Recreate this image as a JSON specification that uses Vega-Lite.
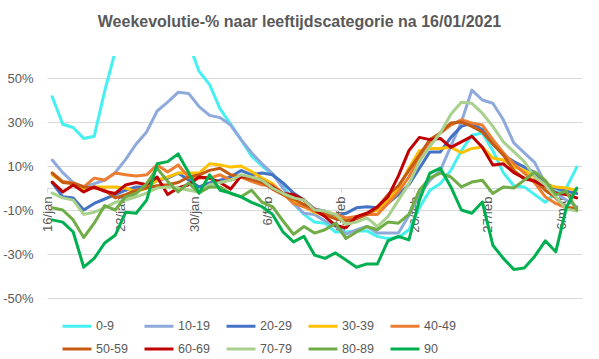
{
"$schema": "https://vega.github.io/schema/vega-lite/v6.json",
"autosize": "none",
"width": 535,
"height": 242,
"padding": {"left": 47, "top": 56, "right": 17, "bottom": 61},
"background": "white",
"title": {"text": "Weekevolutie-% naar leeftijdscategorie  na 16/01/2021", "font": "Liberation Sans", "fontSize": 16, "fontWeight": "bold", "color": "#595959", "anchor": "middle", "dx": -15, "offset": 26},
"data": {"values": [
{"d":"2021-01-16","0-9":41.5,"10-19":12.7,"20-29":2.5,"30-39":6,"40-49":6.8,"50-59":6.8,"60-69":2.7,"70-79":-2.3,"80-89":-9,"90":-14.5},
{"d":"2021-01-17","0-9":29,"10-19":7,"20-29":-4,"30-39":2.7,"40-49":3,"50-59":2.5,"60-69":-1.8,"70-79":-4.5,"80-89":-10,"90":-15.5},
{"d":"2021-01-18","0-9":27.5,"10-19":2.5,"20-29":-4.5,"30-39":2,"40-49":2.3,"50-59":2,"60-69":1.4,"70-79":-5.5,"80-89":-14.5,"90":-20},
{"d":"2021-01-19","0-9":22.5,"10-19":0.5,"20-29":-10,"30-39":-1,"40-49":0.5,"50-59":0.5,"60-69":-1.8,"70-79":-12,"80-89":-22.5,"90":-36},
{"d":"2021-01-20","0-9":23.5,"10-19":2,"20-29":-7,"30-39":0.5,"40-49":4.5,"50-59":0,"60-69":0.5,"70-79":-11,"80-89":-16,"90":-32},
{"d":"2021-01-21","0-9":44,"10-19":3.5,"20-29":-5,"30-39":0.5,"40-49":3.6,"50-59":-1,"60-69":-1.5,"70-79":-9,"80-89":-8,"90":-25},
{"d":"2021-01-22","0-9":62,"10-19":7,"20-29":-3,"30-39":0.5,"40-49":6.8,"50-59":-4.5,"60-69":-2.5,"70-79":-6.5,"80-89":-10,"90":-21.5},
{"d":"2021-01-23","0-9":70,"10-19":13,"20-29":-1,"30-39":0,"40-49":6,"50-59":-3,"60-69":1.4,"70-79":-5.5,"80-89":-4,"90":-11},
{"d":"2021-01-24","0-9":76,"10-19":20,"20-29":0.5,"30-39":-1.8,"40-49":5.5,"50-59":-1,"60-69":2.5,"70-79":-4,"80-89":-2.5,"90":-11.5},
{"d":"2021-01-25","0-9":80,"10-19":25.5,"20-29":0.5,"30-39":0,"40-49":6,"50-59":0,"60-69":1.5,"70-79":-2.3,"80-89":2,"90":-5.5},
{"d":"2021-01-26","0-9":82,"10-19":35,"20-29":3.6,"30-39":3.6,"40-49":10.5,"50-59":1,"60-69":5,"70-79":0,"80-89":9,"90":11},
{"d":"2021-01-27","0-9":80,"10-19":39,"20-29":4.5,"30-39":5,"40-49":7.3,"50-59":1.5,"60-69":-3,"70-79":0.5,"80-89":3,"90":12},
{"d":"2021-01-28","0-9":75,"10-19":43.5,"20-29":6.8,"30-39":6.8,"40-49":10.5,"50-59":2.5,"60-69":0,"70-79":0,"80-89":-1.8,"90":15.5},
{"d":"2021-01-29","0-9":66,"10-19":43,"20-29":3.6,"30-39":6.8,"40-49":5,"50-59":5,"60-69":1.5,"70-79":-1,"80-89":2.3,"90":7},
{"d":"2021-01-30","0-9":53,"10-19":37,"20-29":0.5,"30-39":6.8,"40-49":4.5,"50-59":6,"60-69":5,"70-79":-1.8,"80-89":-2.3,"90":-2.3},
{"d":"2021-01-31","0-9":47,"10-19":33,"20-29":2.3,"30-39":11,"40-49":4.5,"50-59":8,"60-69":4.5,"70-79":1.5,"80-89":0.5,"90":6},
{"d":"2021-02-01","0-9":36,"10-19":32,"20-29":3.6,"30-39":10.5,"40-49":6,"50-59":9,"60-69":2.5,"70-79":2.5,"80-89":0.5,"90":-1},
{"d":"2021-02-02","0-9":29,"10-19":28.6,"20-29":5,"30-39":9.5,"40-49":3.6,"50-59":6,"60-69":-0.5,"70-79":3.5,"80-89":-2.5,"90":-2.3},
{"d":"2021-02-03","0-9":22,"10-19":22,"20-29":8,"30-39":10,"40-49":5,"50-59":5,"60-69":5.5,"70-79":6,"80-89":-4,"90":-4},
{"d":"2021-02-04","0-9":14.5,"10-19":16,"20-29":6,"30-39":7.5,"40-49":3,"50-59":4,"60-69":5,"70-79":5,"80-89":-1,"90":-6.5},
{"d":"2021-02-05","0-9":10,"10-19":11,"20-29":6.8,"30-39":4.5,"40-49":1.4,"50-59":2.5,"60-69":3.5,"70-79":3.5,"80-89":-6.5,"90":-8.5},
{"d":"2021-02-06","0-9":6,"10-19":6.5,"20-29":6,"30-39":2,"40-49":1.4,"50-59":-0.5,"60-69":0.5,"70-79":0,"80-89":-8.5,"90":-12},
{"d":"2021-02-07","0-9":1.5,"10-19":0,"20-29":2.3,"30-39":-3,"40-49":-2.5,"50-59":-3,"60-69":-2.5,"70-79":-2.5,"80-89":-15,"90":-20},
{"d":"2021-02-08","0-9":-7,"10-19":-7,"20-29":-2.3,"30-39":-6.4,"40-49":-7,"50-59":-5,"60-69":-3,"70-79":-4.5,"80-89":-21,"90":-24.5},
{"d":"2021-02-09","0-9":-12,"10-19":-11.5,"20-29":-5.5,"30-39":-8.5,"40-49":-8.5,"50-59":-7.5,"60-69":-5.5,"70-79":-5.5,"80-89":-17.5,"90":-22},
{"d":"2021-02-10","0-9":-15.5,"10-19":-12,"20-29":-9.5,"30-39":-11,"40-49":-10.5,"50-59":-9.5,"60-69":-10,"70-79":-10,"80-89":-20.5,"90":-30.5},
{"d":"2021-02-11","0-9":-16,"10-19":-15,"20-29":-10.5,"30-39":-12.5,"40-49":-11,"50-59":-12,"60-69":-13,"70-79":-10.5,"80-89":-19,"90":-32},
{"d":"2021-02-12","0-9":-20,"10-19":-17.5,"20-29":-13,"30-39":-13.6,"40-49":-12,"50-59":-14,"60-69":-17,"70-79":-12,"80-89":-16,"90":-29.5},
{"d":"2021-02-13","0-9":-20,"10-19":-21,"20-29":-11.5,"30-39":-14.5,"40-49":-13.6,"50-59":-15,"60-69":-18,"70-79":-16.5,"80-89":-23,"90":-32.7},
{"d":"2021-02-14","0-9":-19.5,"10-19":-19,"20-29":-9,"30-39":-13,"40-49":-13,"50-59":-14,"60-69":-13,"70-79":-15.5,"80-89":-20,"90":-36},
{"d":"2021-02-15","0-9":-19.5,"10-19":-17.5,"20-29":-8.5,"30-39":-11.5,"40-49":-12,"50-59":-12,"60-69":-11.5,"70-79":-13.6,"80-89":-17.5,"90":-34.5},
{"d":"2021-02-16","0-9":-22,"10-19":-20.5,"20-29":-9,"30-39":-10,"40-49":-12,"50-59":-9,"60-69":-8.5,"70-79":-17.5,"80-89":-19,"90":-34.5},
{"d":"2021-02-17","0-9":-23,"10-19":-20.5,"20-29":-7,"30-39":-5.5,"40-49":-7,"50-59":-3,"60-69":-4,"70-79":-13,"80-89":-15.5,"90":-24},
{"d":"2021-02-18","0-9":-22.5,"10-19":-20.5,"20-29":-3,"30-39":0,"40-49":-1.8,"50-59":1,"60-69":5.5,"70-79":-5.5,"80-89":-16,"90":-22},
{"d":"2021-02-19","0-9":-19,"10-19":-12.5,"20-29":1.5,"30-39":9,"40-49":5,"50-59":8,"60-69":17,"70-79":2,"80-89":-12,"90":-23.6},
{"d":"2021-02-20","0-9":-9,"10-19":-3,"20-29":9,"30-39":17,"40-49":14,"50-59":15,"60-69":23,"70-79":12,"80-89":-1,"90":-5.5},
{"d":"2021-02-21","0-9":-1,"10-19":3.5,"20-29":16.4,"30-39":18,"40-49":21,"50-59":22,"60-69":22,"70-79":19,"80-89":4.5,"90":6.8},
{"d":"2021-02-22","0-9":2,"10-19":8,"20-29":16.4,"30-39":18,"40-49":25,"50-59":25,"60-69":22.5,"70-79":25,"80-89":6.8,"90":9},
{"d":"2021-02-23","0-9":8,"10-19":19,"20-29":23,"30-39":18.6,"40-49":28.6,"50-59":29.5,"60-69":18.5,"70-79":33.5,"80-89":5,"90":0.5},
{"d":"2021-02-24","0-9":17,"10-19":30,"20-29":28,"30-39":16,"40-49":31,"50-59":30,"60-69":21,"70-79":39,"80-89":0.5,"90":-10},
{"d":"2021-02-25","0-9":24,"10-19":44.5,"20-29":29.5,"30-39":18,"40-49":29.5,"50-59":28,"60-69":23.5,"70-79":38.5,"80-89":2.7,"90":-11.5},
{"d":"2021-02-26","0-9":25,"10-19":40,"20-29":26.5,"30-39":18.6,"40-49":28.6,"50-59":25.5,"60-69":18.5,"70-79":34,"80-89":3.5,"90":-6.4},
{"d":"2021-02-27","0-9":17,"10-19":38.5,"20-29":20,"30-39":13.6,"40-49":22,"50-59":20,"60-69":10.5,"70-79":28,"80-89":-2.5,"90":-26},
{"d":"2021-02-28","0-9":7,"10-19":31,"20-29":15,"30-39":12.7,"40-49":16,"50-59":15,"60-69":11,"70-79":21,"80-89":0.5,"90":-32},
{"d":"2021-03-01","0-9":1,"10-19":20.5,"20-29":12,"30-39":9.5,"40-49":11,"50-59":8,"60-69":7,"70-79":16.5,"80-89":0,"90":-37},
{"d":"2021-03-02","0-9":0.5,"10-19":16,"20-29":9.5,"30-39":8,"40-49":6.8,"50-59":4,"60-69":4.5,"70-79":12,"80-89":3.6,"90":-36.4},
{"d":"2021-03-03","0-9":-3,"10-19":11.5,"20-29":7,"30-39":5,"40-49":2.3,"50-59":3.5,"60-69":3,"70-79":5,"80-89":7.3,"90":-31},
{"d":"2021-03-04","0-9":-6.5,"10-19":2,"20-29":2,"30-39":1.4,"40-49":-4,"50-59":-1,"60-69":1,"70-79":1.4,"80-89":3.5,"90":-24},
{"d":"2021-03-05","0-9":-2,"10-19":-2,"20-29":0,"30-39":0.5,"40-49":-7,"50-59":-4.5,"60-69":-2.3,"70-79":-4,"80-89":-3,"90":-29},
{"d":"2021-03-06","0-9":0,"10-19":-5.5,"20-29":-1.5,"30-39":0,"40-49":-9,"50-59":-9,"60-69":-3,"70-79":-9.5,"80-89":-1.5,"90":-9},
{"d":"2021-03-07","0-9":9.5,"10-19":-8.5,"20-29":-2.5,"30-39":-1,"40-49":-9,"50-59":-9.5,"60-69":-4.5,"70-79":-10.5,"80-89":-10,"90":0}
]},
"transform": [{"fold": ["0-9","10-19","20-29","30-39","40-49","50-59","60-69","70-79","80-89","90"], "as": ["g","v"]}],
"mark": {"type": "line", "clip": true, "strokeJoin": "round", "strokeCap": "round"},
"encoding": {
"x": {"field": "d", "type": "temporal",
 "scale": {"type": "utc", "domain": [{"year":2021,"month":1,"date":15,"hours":12,"utc":true},{"year":2021,"month":3,"date":7,"hours":12,"utc":true}]},
 "axis": {"title": null, "orient": "bottom", "offset": -110, "grid": false,
  "values": [{"year":2021,"month":1,"date":16,"utc":true},{"year":2021,"month":1,"date":23,"utc":true},{"year":2021,"month":1,"date":30,"utc":true},{"year":2021,"month":2,"date":6,"utc":true},{"year":2021,"month":2,"date":13,"utc":true},{"year":2021,"month":2,"date":20,"utc":true},{"year":2021,"month":2,"date":27,"utc":true},{"year":2021,"month":3,"date":6,"utc":true}],
  "labelExpr": "utcFormat(datum.value, '%-d/') + lower(utcFormat(datum.value, '%b'))",
  "labelAngle": 270, "labelFont": "Liberation Sans", "labelFontSize": 13, "labelColor": "#595959",
  "labelPadding": 4, "labelOverlap": false, "labelFlush": false, "labelBound": false,
  "domainColor": "#d9d9d9", "domainWidth": 1, "tickColor": "#d9d9d9", "tickSize": 4, "tickOffset": -5}},
"y": {"field": "v", "type": "quantitative",
 "scale": {"domain": [-50, 60], "nice": false, "zero": false},
 "axis": {"title": null, "values": [-50,-30,-10,10,30,50], "labelExpr": "datum.value + '%'",
  "grid": true, "gridColor": "#d9d9d9", "domain": false, "ticks": false,
  "labelFont": "Liberation Sans", "labelFontSize": 13, "labelColor": "#595959", "labelPadding": 14}},
"color": {"field": "g", "type": "nominal",
 "scale": {"domain": ["0-9","10-19","20-29","30-39","40-49","50-59","60-69","70-79","80-89","90"],
  "range": ["#45F0F0","#8EA9DB","#4472C4","#FFC000","#ED7D31","#C55A11","#C00000","#A9D18E","#70AD47","#00B050"]},
 "legend": {"title": null, "orient": "none", "legendX": 14, "legendY": 254, "direction": "horizontal", "columns": 5,
  "symbolType": "stroke", "symbolSize": 841, "symbolStrokeWidth": 3,
  "labelFont": "Liberation Sans", "labelFontSize": 12.5, "labelColor": "#595959", "labelOffset": 3,
  "columnPadding": 10, "rowPadding": -7,
  "encode": {"symbols": {"update": {"strokeWidth": {"signal": "datum.value === '70-79' ? 4.5 : 3"}}}}}},
"strokeWidth": {"field": "g", "type": "nominal",
 "scale": {"domain": ["0-9","10-19","20-29","30-39","40-49","50-59","60-69","70-79","80-89","90"],
  "range": [3,3,3,3,3,3,3,4.5,3,3]}, "legend": null}
},
"config": {"view": {"stroke": null}}
}
